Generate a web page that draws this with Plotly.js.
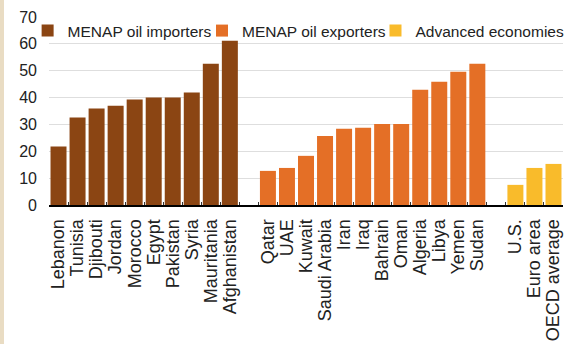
<!DOCTYPE html>
<html>
<head>
<meta charset="utf-8">
<script src="https://cdn.plot.ly/plotly-3.0.1.min.js"></script>
<style>
  html, body { margin: 0; padding: 0; background: #e9dcc3; }
  #chart { margin-left: 4px; width: 560px; height: 344px; background: #fff; }
</style>
</head>
<body>
<div id="chart"></div>
<script>
const importers = ["Lebanon", "Tunisia", "Djibouti", "Jordan", "Morocco", "Egypt", "Pakistan", "Syria", "Mauritania", "Afghanistan"];
const importerValues = [21.8, 32.6, 35.9, 37.0, 39.3, 40.0, 40.0, 41.9, 52.6, 61.2];

const exporters = ["Qatar", "UAE", "Kuwait", "Saudi Arabia", "Iran", "Iraq", "Bahrain", "Oman", "Algeria", "Libya", "Yemen", "Sudan"];
const exporterValues = [12.7, 13.8, 18.3, 25.7, 28.4, 28.8, 30.2, 30.2, 42.9, 45.9, 49.6, 52.6];

const advanced = ["U.S.", "Euro area", "OECD average"];
const advancedValues = [7.5, 13.8, 15.3];

const seriesNames = ["MENAP oil importers", "MENAP oil exporters", "Advanced economies"];
const seriesColors = ["#8b4513", "#e46f26", "#f9bb2b"];

// spacer categories separating the groups
const spacers = [" ", "  "];
const categoryOrder = [].concat(importers, [spacers[0]], exporters, [spacers[1]], advanced);

const groups = [
  {x: importers, y: importerValues},
  {x: exporters, y: exporterValues},
  {x: advanced, y: advancedValues}
];

const legendIds = ["legend", "legend2", "legend3"];
// left edge (paper fraction) of each legend entry
const legendX = [-0.0416, 0.2977, 0.6352];

const traces = groups.map((g, i) => ({
  type: "bar",
  x: g.x,
  y: g.y,
  name: seriesNames[i],
  legend: legendIds[i],
  marker: {color: seriesColors[i], line: {width: 0}},
  hoverinfo: "x+y"
}));

const font = "Arial, 'Liberation Sans', sans-serif";

const layout = {
  width: 560,
  height: 344,
  margin: {l: 45, r: 1, t: 17, b: 139, autoexpand: false},
  paper_bgcolor: "#ffffff",
  plot_bgcolor: "#ffffff",
  barmode: "overlay",
  bargap: 0.16,
  font: {family: font, color: "#222222"},
  showlegend: true,
  xaxis: {
    type: "category",
    categoryorder: "array",
    categoryarray: categoryOrder,
    range: [-0.5, categoryOrder.length - 0.5],
    tickmode: "linear",
    tick0: 0,
    dtick: 1,
    tickangle: -90,
    tickson: "boundaries",
    ticks: "inside",
    ticklen: 3,
    tickwidth: 1,
    tickcolor: "#333333",
    ticklabelstandoff: 5,
    showline: true,
    linecolor: "#000000",
    linewidth: 2,
    showgrid: false,
    tickfont: {family: font, size: 18, color: "#222222"},
    fixedrange: true
  },
  yaxis: {
    range: [0, 70],
    dtick: 10,
    tick0: 0,
    showgrid: true,
    gridcolor: "#dedede",
    gridwidth: 1,
    zeroline: false,
    showline: false,
    ticks: "",
    ticklabelstandoff: 11,
    tickfont: {family: font, size: 16, color: "#222222"},
    fixedrange: true
  }
};

legendIds.forEach((id, i) => {
  layout[id] = {
    orientation: "h",
    x: legendX[i],
    xanchor: "left",
    y: 0.9255,
    yanchor: "middle",
    bgcolor: "rgba(0,0,0,0)",
    borderwidth: 0,
    font: {family: font, size: 15.5, color: "#222222"},
    itemwidth: 30
  };
});

Plotly.newPlot("chart", traces, layout, {displayModeBar: false, staticPlot: true});
</script>
</body>
</html>
